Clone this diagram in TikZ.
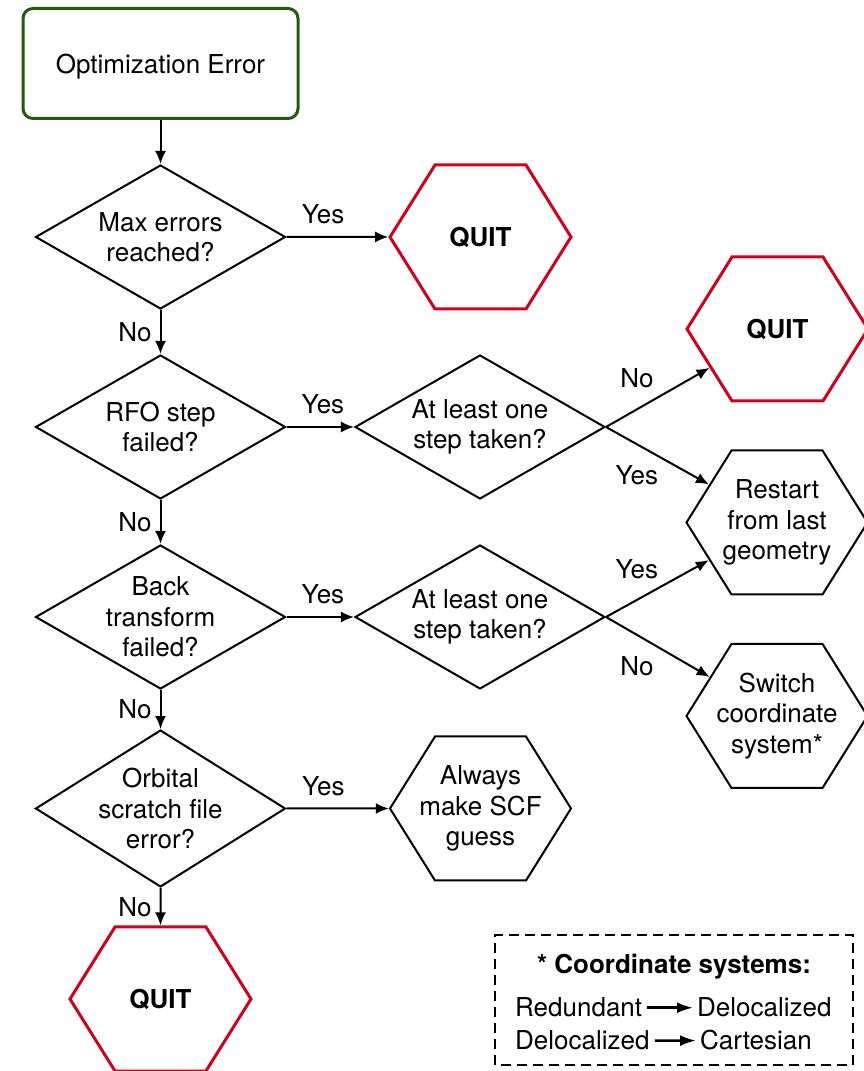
\documentclass[tikz,border=0pt]{standalone}
\usepackage{fontspec}
\setmainfont{TeX Gyre Heros}
\usetikzlibrary{shapes.geometric,shapes.symbols,arrows.meta}
\definecolor{startgreen}{RGB}{38,90,10}
\definecolor{quitred}{RGB}{208,2,27}

\tikzset{
  txt/.style={font=\fontsize{26}{30.5}\selectfont, align=center},
  startbox/.style={txt, draw=startgreen, line width=3pt, rounded corners=10pt,
    text depth=0pt, minimum width=275pt, minimum height=110pt},
  decision/.style={txt, diamond, draw, line width=2pt, inner sep=-12pt,
    minimum width=250pt, minimum height=144pt},
  hexbox/.style={txt, signal, signal to=east and west, signal pointer angle=116,
    draw, line width=2pt, inner xsep=-26pt, inner ysep=0pt,
    minimum width=181pt, minimum height=144pt},
  quitbox/.style={hexbox, draw=quitred, line width=3pt,
    font=\fontsize{26}{30.5}\selectfont\bfseries},
  answer/.style={font=\fontsize{26}{30.5}\selectfont, inner sep=2pt},
  flow/.style={-{Latex[length=13pt,width=11pt]}, line width=2pt},
  keytext/.style={font=\fontsize{26}{30.5}\selectfont, inner sep=0pt, anchor=base west},
  keyarrow/.style={-{Latex[length=16pt,width=11pt]}, line width=2.5pt, shorten <=5pt, shorten >=4pt},
  keyframe/.style={line width=2pt, dash pattern=on 10pt off 6pt}
}

\begin{document}
\begin{tikzpicture}[x=10pt,y=10pt]
  \useasboundingbox (0,0) rectangle (86.3,107.1);

  %%%%% MAIN COLUMN %%%%%
  \node[startbox] (start) at (16.05,100.75) {Optimization Error};
  \node[decision] (maxerr) at (16.05,83.4) {Max errors\\reached?};
  \node[decision] (rfo) at (16.05,64.4) {RFO step\\failed?};
  \node[decision] (backtr) at (16.05,45.4) {Back\\transform\\failed?};
  \node[decision] (orbital) at (16.05,26.25) {Orbital\\scratch file\\error?};
  \node[quitbox] (quitc) at (16.05,7.2) {QUIT};

  %%%%% SECOND COLUMN %%%%%
  \node[quitbox] (quita) at (48.05,83.4) {QUIT};
  \node[decision] (steprfo) at (48,64.4) {At least one\\step taken?};
  \node[decision] (stepback) at (48,45.4) {At least one\\step taken?};
  \node[hexbox] (scfguess) at (48.05,26.25) {Always\\make SCF\\guess};

  %%%%% THIRD COLUMN %%%%%
  \node[quitbox] (quitb) at (77.75,74.2) {QUIT};
  \node[hexbox] (restart) at (77.7,54.85) {Restart\\from last\\geometry};
  \node[hexbox] (switch) at (77.7,35.5) {Switch\\coordinate\\system*};

  %%%%% CONNECTORS %%%%%
  \draw[flow] (start) -- (maxerr);
  \draw[flow] (maxerr) -- node[answer, pos=.36, above=10pt] (yesa) {Yes} (quita);
  \draw[flow] (maxerr) -- node[answer, midway, left=6pt] (noa) {No} (rfo);
  \draw[flow] (rfo) -- node[answer, pos=.54, above=10pt] (yesb) {Yes} (steprfo);
  \draw[flow] (rfo) -- node[answer, midway, left=6pt] (nob) {No} (backtr);
  \draw[flow] (backtr) -- node[answer, pos=.54, above=10pt] (yesc) {Yes} (stepback);
  \draw[flow] (backtr) -- node[answer, midway, left=6pt] (noc) {No} (orbital);
  \draw[flow] (orbital) -- node[answer, pos=.36, above=10pt] (yesd) {Yes} (scfguess);
  \draw[flow] (orbital) -- node[answer, midway, left=6pt] (nod) {No} (quitc);

  \draw[flow] (steprfo.east) -- node[answer, pos=.3, above=18pt] (noe) {No} (quitb);
  \draw[flow] (steprfo.east) -- node[answer, pos=.3, below=18pt] (yese) {Yes} (restart);
  \draw[flow] (stepback.east) -- node[answer, pos=.3, above=18pt] (yesf) {Yes} (restart);
  \draw[flow] (stepback.east) -- node[answer, pos=.3, below=19pt] (nof) {No} (switch);

  %%%%% KEY %%%%%
  \draw[keyframe] (49.5,0.6) rectangle (85.3,13.6);
  \node[answer, font=\fontsize{26}{30.5}\selectfont\bfseries] (keytitle) at (67.4,10.4) {* Coordinate systems:};
  \node[keytext] (redund) at (51.5,5.4) {Redundant};
  \node[keytext] (delocb) at (69.7,5.4) {Delocalized};
  \node[keytext] (deloca) at (51.5,2.1) {Delocalized};
  \node[keytext] (cartes) at (70.0,2.1) {Cartesian};
  \draw[keyarrow] (redund) -- (delocb);
  \draw[keyarrow] (deloca) -- (cartes);
\end{tikzpicture}
\end{document}
